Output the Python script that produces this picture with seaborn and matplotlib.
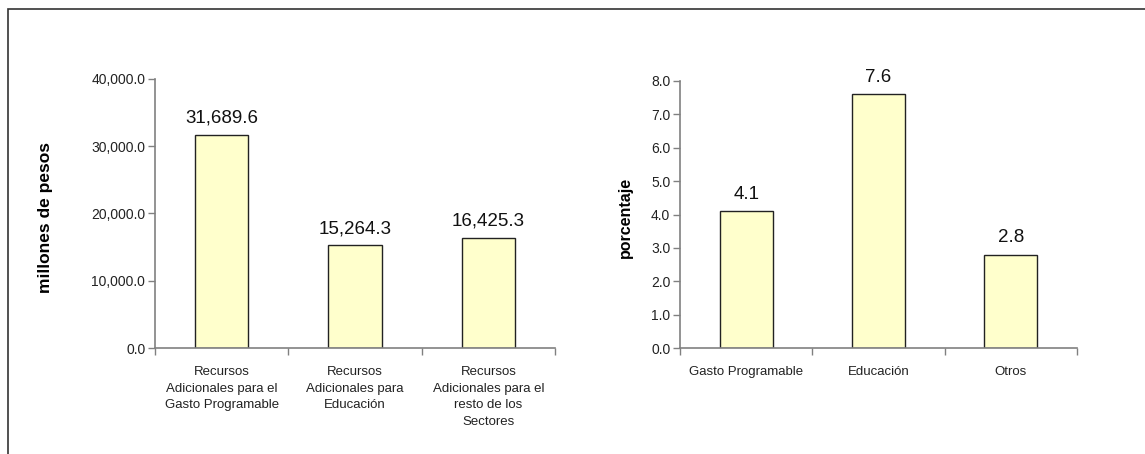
import matplotlib
matplotlib.use('Agg')
import pandas as pd
import numpy as np
import matplotlib.pyplot as plt
import seaborn as sns
from matplotlib.ticker import FuncFormatter, FixedLocator
from matplotlib.patches import Rectangle

# data
recursos_cats = ['Recursos\nAdicionales para el\nGasto Programable',
                 'Recursos\nAdicionales para\nEducación',
                 'Recursos\nAdicionales para el\nresto de los\nSectores']
recursos_vals = [31689.6, 15264.3, 16425.3]
pct_cats = ['Gasto Programable', 'Educación', 'Otros']
pct_vals = [4.1, 7.6, 2.8]

sns.set_style('white')
plt.rcParams['font.family'] = ['Liberation Sans', 'DejaVu Sans']

fig = plt.figure(figsize=(11.45, 4.54), dpi=100)
ax1 = fig.add_axes([155/1145, 1-348/454, 400/1145, 269/454])
ax2 = fig.add_axes([680/1145, 1-348/454, 397/1145, 267/454])

# outer frame (runs past right and bottom edge)
fig.patches.append(Rectangle((8/1145, -0.2), 1.2, 1.2 - 9/454, transform=fig.transFigure,
                             fill=False, edgecolor='#333333', linewidth=1.2, clip_on=False))

bar_color = '#FFFFCC'
spine_col = '#808080'


def draw(ax, cats, vals, ylim, step, fmt, ylabel, label_size, label_xy):
    df = pd.DataFrame({'cat': cats, 'val': vals})
    sns.barplot(data=df, x='cat', y='val', order=cats, color=bar_color, width=0.4,
                edgecolor='#222222', linewidth=1, saturation=1, ax=ax)
    ax.set_ylim(0, ylim)
    ax.set_xlim(-0.5, len(cats) - 0.5)
    ax.set_yticks(np.arange(0, ylim + step / 2, step))
    ax.yaxis.set_major_formatter(FuncFormatter(lambda v, p: format(v, fmt)))
    ax.xaxis.set_minor_locator(FixedLocator(np.arange(-0.5, len(cats), 1.0)))
    ax.tick_params(bottom=True, left=True, which='both')
    ax.tick_params(axis='x', which='major', length=0, pad=13, labelsize=9.5, colors='#222222')
    ax.tick_params(axis='x', which='minor', length=5, width=1, color=spine_col, direction='out')
    ax.tick_params(axis='y', length=5, width=1, color=spine_col, direction='out',
                   labelsize=10, labelcolor='#222222', pad=2)
    for lbl in ax.get_xticklabels():
        lbl.set_linespacing(1.5)
    for s in ['top', 'right']:
        ax.spines[s].set_visible(False)
    for s in ['left', 'bottom']:
        ax.spines[s].set_color(spine_col)
        ax.spines[s].set_linewidth(1.2)
    ax.set_xlabel('')
    ax.set_ylabel(ylabel, fontsize=label_size, fontweight='bold', color='black')
    ax.yaxis.set_label_coords(*label_xy)
    for i, v in enumerate(vals):
        ax.annotate(format(v, fmt), (i, v), xytext=(0, 6), textcoords='offset points',
                    ha='center', va='bottom', fontsize=13.5, color='#111111')


draw(ax1, recursos_cats, recursos_vals, 40000, 10000, ',.1f', 'millones de pesos', 12.5, (-0.255, 0.485))
draw(ax2, pct_cats, pct_vals, 8, 1, '.1f', 'porcentaje', 11.5, (-0.118, 0.489))

fig.savefig('out.png', dpi=100)
